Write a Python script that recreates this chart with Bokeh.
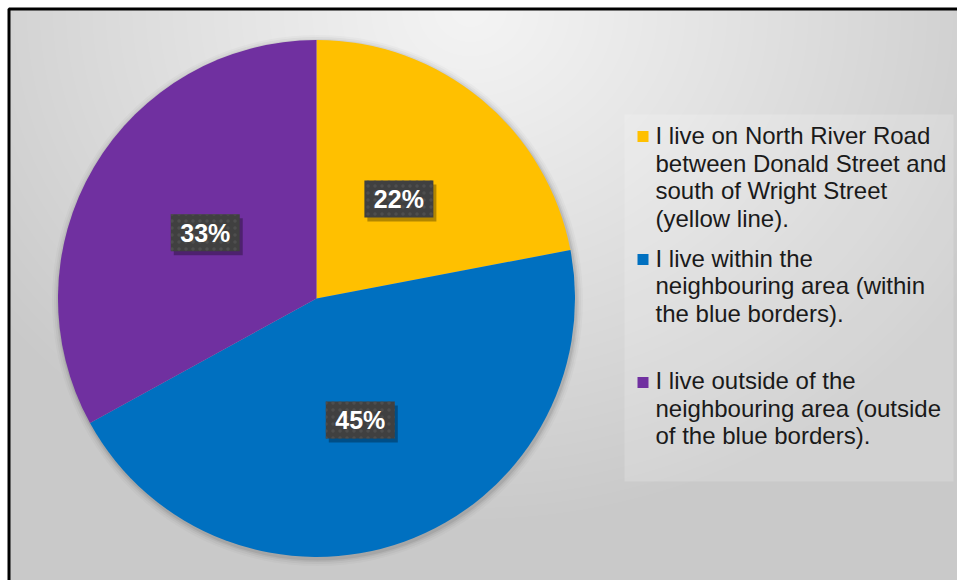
import numpy as np
from bokeh.plotting import figure
from bokeh.models import Range1d, ColumnDataSource
from bokeh.core.properties import value
from bokeh.transform import dodge
from bokeh.embed import file_html
from bokeh.resources import INLINE

# ---- data ----
categories = [
    "I live on North River Road\nbetween Donald Street and\nsouth of Wright Street\n(yellow line).",
    "I live within the\nneighbouring area (within\nthe blue borders).",
    "I live outside of the\nneighbouring area (outside\nof the blue borders).",
]
shares = [22, 45, 33]
labels = ["22%", "45%", "33%"]
colors = ["#FFC000", "#0070C0", "#7030A0"]

W, H = 957, 580
p = figure(width=W, height=H, output_backend="svg", toolbar_location=None,
           x_range=Range1d(0, W), y_range=Range1d(0, H), min_border=0,
           background_fill_color="white", border_fill_color="white")
p.axis.visible = False
p.grid.visible = False
p.outline_line_color = None

# ---- background radial gradient (decoration) ----
bx0, by_top = 8, 9
gw, gh = W - bx0, H - by_top
xs = np.arange(gw) + bx0 + 0.5
ys_pix = by_top + (gh - 1 - np.arange(gh)) + 0.5  # row 0 at bottom
X, Y = np.meshgrid(xs, ys_pix)
d = np.sqrt(((X - 470) / 1.15) ** 2 + (Y - 10) ** 2)
t = np.clip(d / 520.0, 0, 1)
g = (244 - (244 - 201) * t ** 1.1).astype(np.uint32)
img = (255 << 24) | (g << 16) | (g << 8) | g
p.image_rgba(image=[img.astype(np.uint32)], x=bx0, y=0, dw=gw, dh=gh)

# border (top & left)
p.line(x=[bx0 + 0.5, bx0 + 0.5, W], y=[0, H - by_top + 0.5, H - by_top + 0.5],
       line_color="black", line_width=3)

# ---- pie ----
cx, cy, r = 316, H - 298, 258.5
# soft shadow
for k, a in [(7, 0.025), (5, 0.035), (3, 0.05), (1.5, 0.07)]:
    p.circle(x=cx + 1, y=cy - 2, radius=r + k, fill_color="black", fill_alpha=a,
             line_color=None)

tot = float(sum(shares))
cum = np.concatenate([[0], np.cumsum(shares)]) / tot
start = np.pi / 2 - 2 * np.pi * cum[:-1]
end = np.pi / 2 - 2 * np.pi * cum[1:]
mid = (start + end) / 2
src = ColumnDataSource(dict(start=start, end=end, color=colors,
                            lx=cx + 0.5 * r * np.cos(mid),
                            ly=cy + 0.5 * r * np.sin(mid), label=labels))
p.wedge(x=cx, y=cy, radius=r, start_angle="start", end_angle="end",
        direction="clock", fill_color="color", line_color=None, source=src)

# data labels: shadow + box + text
p.rect(x=dodge("lx", 3), y=dodge("ly", -4), width=69, height=37, source=src,
       fill_color="black", fill_alpha=0.3, line_color=None)
p.rect(x="lx", y="ly", width=69, height=37, source=src,
       fill_color="#404040", line_color=None,
       hatch_pattern="dot", hatch_color="#4e4e4e", hatch_scale=7, hatch_weight=1.2)
p.text(x="lx", y="ly", text="label", source=src, text_color="white",
       text_font=value("Liberation Sans"), text_font_style="bold",
       text_font_size="25px", text_align="center", text_baseline="middle")

# ---- legend ----
p.rect(x=788.5, y=H - 297.5, width=329, height=367, fill_color="white",
       fill_alpha=0.18, line_color=None)
idx = np.arange(len(categories))
lsrc = ColumnDataSource(dict(my=H - (136 + 123 * idx), ty=H - (121.5 + 122.5 * idx),
                             color=colors, text=categories))
p.rect(x=642.5, y="my", width=11, height=11, fill_color="color", line_color=None,
       source=lsrc)
p.text(x=655, y="ty", text="text", source=lsrc, text_color="#1a1a1a",
       text_font=value("Liberation Sans"), text_font_size="24px",
       text_align="left", text_baseline="top", text_line_height=1.02)

open("out.html", "w").write(file_html(p, INLINE))
